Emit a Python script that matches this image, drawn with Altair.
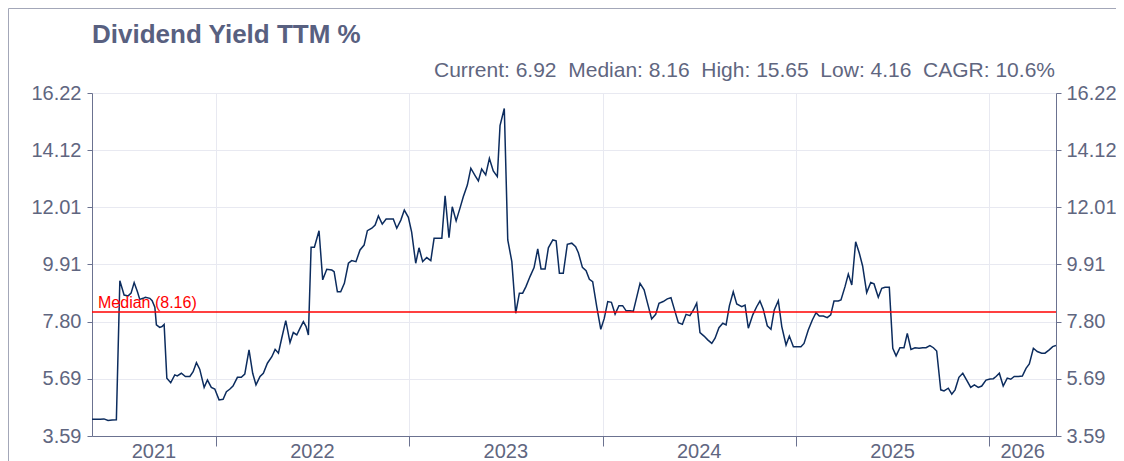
import altair as alt
import pandas as pd

# ---- data (decimal year, dividend yield TTM %) ----
t21 = [2021.360, 2021.402, 2021.422, 2021.443, 2021.464, 2021.486, 2021.504, 2021.526, 2021.547, 2021.562,
       2021.578, 2021.595, 2021.607, 2021.624, 2021.636, 2021.659, 2021.671, 2021.685, 2021.693, 2021.710,
       2021.722, 2021.733, 2021.747, 2021.767, 2021.788, 2021.801, 2021.822, 2021.843, 2021.866, 2021.883,
       2021.900, 2021.917, 2021.940, 2021.957, 2021.977, 2021.995]
v21 = [4.21, 4.21, 4.22, 4.16, 4.18, 4.19, 9.31, 8.78, 8.75, 8.85,
       9.24, 8.90, 8.62, 8.66, 8.70, 8.66, 8.57, 8.33, 7.68, 7.59,
       7.62, 7.70, 5.72, 5.55, 5.84, 5.80, 5.90, 5.78, 5.78, 5.96,
       6.29, 6.05, 5.38, 5.65, 5.38, 5.32]

t22 = [2022.017, 2022.038, 2022.055, 2022.072, 2022.089, 2022.112, 2022.132, 2022.150, 2022.172, 2022.191,
       2022.208, 2022.229, 2022.246, 2022.267, 2022.290, 2022.307, 2022.324, 2022.341, 2022.362, 2022.384,
       2022.401, 2022.419, 2022.436, 2022.453, 2022.467, 2022.479, 2022.493, 2022.510, 2022.534, 2022.553,
       2022.574, 2022.600, 2022.612, 2022.629, 2022.646, 2022.665, 2022.686, 2022.703, 2022.725, 2022.746,
       2022.767, 2022.784, 2022.807, 2022.824, 2022.841, 2022.861, 2022.881, 2022.918, 2022.936, 2022.957,
       2022.975, 2022.996]
v22 = [4.92, 4.94, 5.22, 5.31, 5.43, 5.75, 5.75, 5.87, 6.76, 5.90,
       5.47, 5.78, 5.90, 6.27, 6.51, 6.78, 6.64, 7.19, 7.84, 7.03,
       7.40, 7.31, 7.56, 7.80, 7.62, 7.31, 10.54, 10.54, 11.15, 9.34,
       9.73, 9.70, 9.64, 8.90, 8.90, 9.21, 9.95, 10.05, 10.01, 10.44,
       10.62, 11.15, 11.24, 11.36, 11.69, 11.39, 11.58, 11.58, 11.24, 11.54,
       11.91, 11.64]

t23 = [2023.013, 2023.034, 2023.051, 2023.070, 2023.091, 2023.112, 2023.129, 2023.169, 2023.186, 2023.206,
       2023.223, 2023.243, 2023.263, 2023.280, 2023.301, 2023.319, 2023.341, 2023.358, 2023.375, 2023.396,
       2023.415, 2023.435, 2023.456, 2023.470, 2023.492, 2023.510, 2023.531, 2023.551, 2023.570, 2023.587,
       2023.604, 2023.625, 2023.646, 2023.665, 2023.682, 2023.703, 2023.720, 2023.743, 2023.760, 2023.777,
       2023.797, 2023.818, 2023.841, 2023.861, 2023.875, 2023.896, 2023.915, 2023.932, 2023.949, 2023.970,
       2023.991]
v23 = [11.10, 9.95, 10.52, 10.01, 10.16, 10.05, 10.87, 10.87, 12.43, 10.89,
       12.03, 11.51, 11.98, 12.40, 12.83, 13.45, 13.18, 12.98, 13.42, 13.20,
       13.81, 13.35, 13.14, 15.02, 15.65, 10.81, 10.01, 8.11, 8.85, 8.85,
       9.09, 9.46, 9.79, 10.48, 9.74, 9.74, 10.52, 10.81, 10.78, 9.58,
       9.58, 10.65, 10.69, 10.56, 10.34, 9.80, 9.68, 9.36, 9.27, 8.35,
       7.52]

t24 = [2024.009, 2024.027, 2024.046, 2024.065, 2024.085, 2024.104, 2024.122, 2024.142, 2024.159, 2024.194,
       2024.215, 2024.232, 2024.254, 2024.275, 2024.292, 2024.314, 2024.335, 2024.354, 2024.375, 2024.392,
       2024.413, 2024.432, 2024.452, 2024.470, 2024.487, 2024.504, 2024.525, 2024.544, 2024.565, 2024.582,
       2024.602, 2024.622, 2024.639, 2024.656, 2024.676, 2024.694, 2024.720, 2024.737, 2024.754, 2024.777,
       2024.797, 2024.814, 2024.831, 2024.852, 2024.871, 2024.888, 2024.909, 2024.927, 2024.949, 2024.966,
       2024.987]
v24 = [7.92, 8.54, 8.51, 8.08, 8.39, 8.39, 8.20, 8.20, 8.18, 9.21,
       8.97, 8.50, 7.90, 8.07, 8.48, 8.54, 8.64, 8.68, 8.17, 7.76,
       7.70, 8.07, 8.02, 8.23, 8.48, 7.40, 7.27, 7.13, 7.00, 7.19,
       7.58, 7.74, 7.68, 8.38, 8.90, 8.45, 8.35, 8.41, 7.56, 8.05,
       8.35, 8.56, 8.26, 7.65, 7.52, 8.23, 8.57, 7.62, 6.94, 7.27,
       6.88]

t25 = [2025.026, 2025.042, 2025.064, 2025.085, 2025.104, 2025.121, 2025.142, 2025.162, 2025.180, 2025.197,
       2025.219, 2025.233, 2025.254, 2025.271, 2025.289, 2025.309, 2025.328, 2025.345, 2025.366, 2025.387,
       2025.404, 2025.426, 2025.444, 2025.461, 2025.483, 2025.501, 2025.518, 2025.538, 2025.559, 2025.576,
       2025.595, 2025.616, 2025.637, 2025.656, 2025.673, 2025.693, 2025.711, 2025.728, 2025.749, 2025.766,
       2025.788, 2025.806, 2025.823, 2025.843, 2025.863, 2025.883, 2025.904, 2025.923, 2025.943, 2025.961,
       2025.983]
v25 = [6.88, 7.00, 7.49, 7.86, 8.13, 8.01, 8.01, 7.95, 8.05, 8.56,
       8.56, 8.60, 9.09, 9.55, 9.15, 10.74, 10.32, 9.85, 8.87, 9.24,
       9.19, 8.70, 9.03, 9.07, 9.07, 6.82, 6.54, 6.84, 6.84, 7.37,
       6.78, 6.84, 6.82, 6.84, 6.84, 6.92, 6.84, 6.72, 5.29, 5.25,
       5.35, 5.13, 5.29, 5.75, 5.90, 5.65, 5.38, 5.47, 5.38, 5.43,
       5.65]

t26 = [2026.004, 2026.021, 2026.035, 2026.052, 2026.072, 2026.093, 2026.111, 2026.129, 2026.150, 2026.171,
       2026.190, 2026.207, 2026.228, 2026.248, 2026.271, 2026.288, 2026.310, 2026.328, 2026.345]
v26 = [5.69, 5.70, 5.78, 5.90, 5.43, 5.72, 5.68, 5.78, 5.78, 5.80,
       6.08, 6.24, 6.82, 6.70, 6.64, 6.64, 6.76, 6.88, 6.92]

y_ticks = [3.59, 5.69, 7.80, 9.91, 12.01, 14.12, 16.22]
year_bounds = [2022, 2023, 2024, 2025, 2026]
year_names = ["2021", "2022", "2023", "2024", "2025", "2026"]
x_domain = [2021.360, 2026.345]

current, median, high, low, cagr = 6.92, 8.16, 15.65, 4.16, 10.6
title_text = "Dividend Yield TTM %"

# ---- build tables ----
df = pd.DataFrame({"t": t21 + t22 + t23 + t24 + t25 + t26,
                   "v": v21 + v22 + v23 + v24 + v25 + v26})
edges = [x_domain[0]] + year_bounds + [x_domain[1]]
df_years = pd.DataFrame({"pos": [(a + b) / 2 for a, b in zip(edges[:-1], edges[1:])],
                         "label": year_names})
df_med = pd.DataFrame({"m": [median], "label": [f"Median ({median:.2f})"]})
GAP = "\u00a0\u00a0"
stats = GAP.join([f"Current: {current:.2f}", f"Median: {median:.2f}", f"High: {high:.2f}",
                  f"Low: {low:.2f}", f"CAGR: {cagr:.1f}%"])
df_one = pd.DataFrame({"stats": [stats], "title": [title_text]})

W, H = 964, 343
FONT = "Liberation Sans"
AX = "#6b7290"
LAB = "#5f6680"
GRID = "#e8e9f1"
FRAME = "#a3a7b8"

xscale = alt.Scale(domain=x_domain, nice=False, zero=False)
yscale = alt.Scale(domain=[y_ticks[0], y_ticks[-1]], nice=False, zero=False)

frame_top = alt.Chart(df_one).mark_rule(color=FRAME, strokeWidth=1).encode(
    x=alt.value(-83.5), x2=alt.value(W + 80), y=alt.value(-84.5)
)
frame_left = alt.Chart(df_one).mark_rule(color=FRAME, strokeWidth=1).encode(
    x=alt.value(-83.5), y=alt.value(-84.5), y2=alt.value(H + 60)
)

line = alt.Chart(df).mark_line(color="#0c2c5e", strokeWidth=1.5, clip=True).encode(
    x=alt.X("t:Q", scale=xscale,
            axis=alt.Axis(values=year_bounds, labels=False, title=None, grid=True, gridColor=GRID,
                          domainColor=AX, tickColor=AX, tickSize=10, orient="bottom")),
    y=alt.Y("v:Q", scale=yscale,
            axis=alt.Axis(values=y_ticks, format=".2f", title=None, grid=True, gridColor=GRID,
                          domainColor=AX, tickColor=AX, tickSize=5, labelPadding=6,
                          labelFontSize=20, labelColor=LAB, labelFont=FONT, orient="left")),
)

med_rule = alt.Chart(df_med).mark_rule(color="#ff0000", strokeWidth=1.5).encode(
    y=alt.Y("m:Q", scale=yscale,
            axis=alt.Axis(values=y_ticks, format=".2f", title=None, grid=False,
                          domainColor=AX, tickColor=AX, tickSize=5, labelPadding=5,
                          labelFontSize=20, labelColor=LAB, labelFont=FONT, orient="right"))
)

med_text = alt.Chart(df_med).mark_text(align="left", baseline="alphabetic", color="#ff0000",
                                       fontSize=16, font=FONT, dx=6, dy=-4).encode(
    x=alt.value(0), y=alt.Y("m:Q", scale=yscale, axis=None), text="label:N"
)

years = alt.Chart(df_years).mark_text(align="center", baseline="alphabetic", fontSize=20,
                                      font=FONT, color=LAB, clip=False).encode(
    x=alt.X("pos:Q", scale=xscale), y=alt.value(H + 22), text="label:N"
)

subtitle = alt.Chart(df_one).mark_text(align="right", baseline="alphabetic", fontSize=21,
                                       font=FONT, color=LAB).encode(
    x=alt.value(W - 1), y=alt.value(-16.3), text="stats:N"
)

title = alt.Chart(df_one).mark_text(align="left", baseline="alphabetic", fontSize=26,
                                    fontWeight="bold", font=FONT, color="#586080").encode(
    x=alt.value(0), y=alt.value(-50.3), text="title:N"
)

chart = alt.layer(frame_top, frame_left, line, med_rule, med_text, years, subtitle, title).resolve_axis(
    y="independent"
).properties(
    width=W, height=H,
    autosize=alt.AutoSizeParams(type="none"),
    padding={"left": 84, "top": 85, "right": 60, "bottom": 25},
).configure_view(strokeWidth=0).configure(background="white")

chart.save("out.html", embed_options={"renderer": "svg", "actions": False})
